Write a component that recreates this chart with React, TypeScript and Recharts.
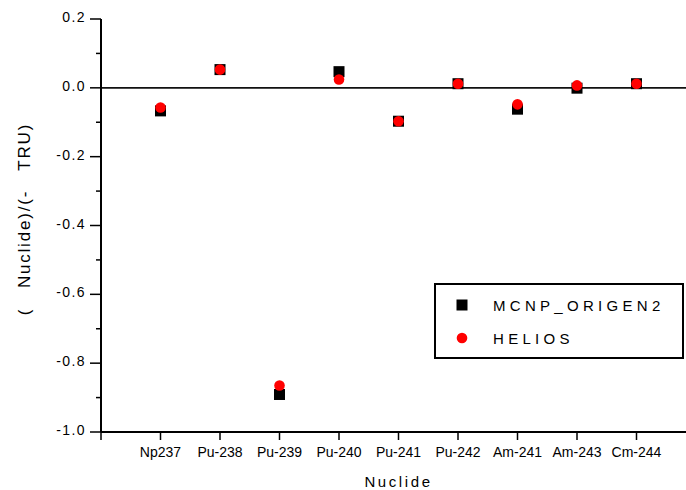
import React from 'react';
import { ScatterChart, Scatter, XAxis, YAxis, ReferenceLine, Legend } from 'recharts';

const nuclides = ['Np237', 'Pu-238', 'Pu-239', 'Pu-240', 'Pu-241', 'Pu-242', 'Am-241', 'Am-243', 'Cm-244'];
const mcnpValues = [-0.067, 0.053, -0.891, 0.047, -0.097, 0.012, -0.062, -0.001, 0.012];
const heliosValues = [-0.057, 0.053, -0.865, 0.024, -0.097, 0.012, -0.048, 0.007, 0.012];
const seriesNames = ['MCNP_ORIGEN2', 'HELIOS'];
const yTicks = [-1.0, -0.9, -0.8, -0.7, -0.6, -0.5, -0.4, -0.3, -0.2, -0.1, 0.0, 0.1, 0.2];
const xTicks = [0, 1, 2, 3, 4, 5, 6, 7, 8, 9];
const yLabel = '(   Nuclide)/(-   TRU)';
const xLabel = 'Nuclide';

const mcnpData = nuclides.map((n, i) => ({ x: i + 1, y: mcnpValues[i], name: n }));
const heliosData = nuclides.map((n, i) => ({ x: i + 1, y: heliosValues[i], name: n }));

const FONT = '"Liberation Sans", Arial, sans-serif';

const YTick = (props: any) => {
  const { x, y, payload } = props;
  const v = payload.value;
  const major = Math.abs(Math.round(v * 10)) % 2 === 0;
  return (
    <g>
      <line x1={x - (major ? 11 : 5)} x2={x} y1={y} y2={y} stroke="#000" strokeWidth={1.5} />
      {major && (
        <text x={x - 15} y={y} dy={3} textAnchor="end" fontSize={14} fontFamily={FONT} letterSpacing={1.4} fill="#000">
          {v.toFixed(1)}
        </text>
      )}
    </g>
  );
};

const XTick = (props: any) => {
  const { x, y, payload } = props;
  const v = payload.value;
  const label = v >= 1 && v <= nuclides.length ? nuclides[v - 1] : '';
  return (
    <g>
      <line x1={x} x2={x} y1={y} y2={y + 8} stroke="#000" strokeWidth={1.5} />
      {label && (
        <text x={x} y={y + 25} textAnchor="middle" fontSize={14} fontFamily={FONT} fill="#000">
          {label}
        </text>
      )}
    </g>
  );
};

const SquareShape = (p: any) => (
  <rect x={p.cx - 5.5} y={p.cy - 5.5} width={11} height={11} fill="#000" />
);
const CircleShape = (p: any) => <circle cx={p.cx} cy={p.cy} r={5.3} fill="#ff0000" />;

const LegendBox = () => (
  <div
    style={{
      width: 250,
      height: 76,
      boxSizing: 'border-box',
      border: '2px solid #000',
      background: '#fff',
    }}
  >
    <svg width={246} height={72} style={{ display: 'block' }}>
      <rect x={20.5} y={14.5} width={11} height={11} fill="#000" />
      <circle cx={26} cy={53} r={5.3} fill="#ff0000" />
      <text x={57} y={25.5} fontSize={15} fontFamily={FONT} letterSpacing={4.3} fill="#000">
        {seriesNames[0]}
      </text>
      <text x={57} y={58.5} fontSize={15} fontFamily={FONT} letterSpacing={4.3} fill="#000">
        {seriesNames[1]}
      </text>
    </svg>
  </div>
);

export default function App() {
  return (
    <div style={{ position: 'absolute', left: 0, top: 0, width: 686, height: 490, overflow: 'hidden', background: '#fff' }}>
      <ScatterChart width={686} height={490} margin={{ top: 19, right: -10, bottom: 0, left: 0 }}>
        <XAxis
          dataKey="x"
          type="number"
          domain={[0, 10]}
          ticks={xTicks}
          interval={0}
          height={58}
          tickSize={0}
          tickMargin={0}
          tickLine={false}
          axisLine={{ stroke: '#000', strokeWidth: 2 }}
          tick={<XTick />}
          label={{
            content: (p: any) => {
              const vb = p.viewBox;
              return (
                <text x={vb.x + vb.width / 2} y={487} textAnchor="middle" fontSize={15} fontFamily={FONT} letterSpacing={2.6} fill="#000">
                  {xLabel}
                </text>
              );
            },
          }}
        />
        <YAxis
          dataKey="y"
          type="number"
          domain={[-1, 0.2]}
          ticks={yTicks}
          interval={0}
          width={101}
          tickSize={0}
          tickMargin={0}
          tickLine={false}
          allowDataOverflow
          axisLine={{ stroke: '#000', strokeWidth: 2 }}
          tick={<YTick />}
          label={{
            content: () => (
              <text
                x={0}
                y={0}
                transform="translate(29.5, 219) rotate(-90)"
                textAnchor="middle"
                fontSize={17}
                fontFamily={FONT}
                letterSpacing={1.8}
                fill="#000"
                style={{ whiteSpace: 'pre' }}
                xmlSpace="preserve"
              >
                {yLabel}
              </text>
            ),
          }}
        />
        <ReferenceLine y={0} stroke="#111" strokeWidth={1.8} />
        <Scatter name={seriesNames[0]} data={mcnpData} shape={SquareShape} isAnimationActive={false} />
        <Scatter name={seriesNames[1]} data={heliosData} shape={CircleShape} isAnimationActive={false} />
        <Legend
          layout="horizontal"
          verticalAlign="middle"
          align="center"
          content={() => <LegendBox />}
          wrapperStyle={{ left: 434, top: 283, width: 250, height: 76 }}
        />
      </ScatterChart>
    </div>
  );
}
